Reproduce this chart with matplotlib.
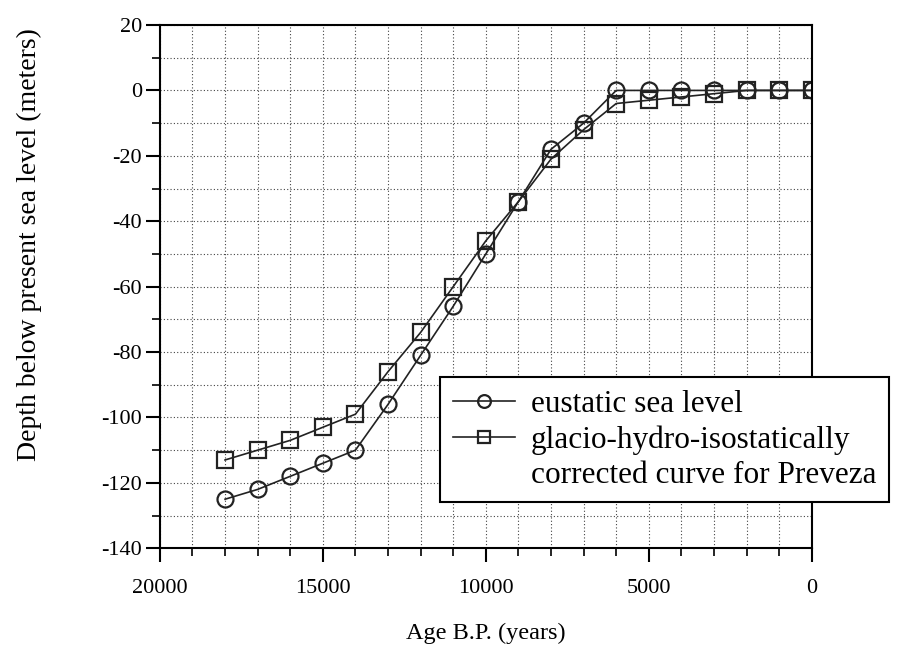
import numpy as np
import matplotlib.pyplot as plt
from matplotlib.lines import Line2D
from matplotlib.ticker import MultipleLocator

plt.rcParams['font.family'] = ['Liberation Serif', 'DejaVu Serif']
plt.rcParams['axes.unicode_minus'] = False

# Data
age = [18000, 17000, 16000, 15000, 14000, 13000, 12000, 11000, 10000, 9000,
       8000, 7000, 6000, 5000, 4000, 3000, 2000, 1000, 0]
eustatic = [-125, -122, -118, -114, -110, -96, -81, -66, -50, -34,
            -18, -10, 0, 0, 0, 0, 0, 0, 0]
preveza = [-113, -110, -107, -103, -99, -86, -74, -60, -46, -34,
           -21, -12, -4, -3, -2, -1, 0, 0, 0]

fig = plt.figure(figsize=(8.98, 6.67), dpi=100)
ax = fig.add_axes([0.178, 0.178, 0.726, 0.7845])

line_kw = dict(color='#222222', lw=1.2, markersize=11.5, markeredgewidth=1.6,
               markerfacecolor='none', markeredgecolor='#222222')
h1, = ax.plot(age, eustatic, marker='o', **line_kw)
h2, = ax.plot(age, preveza, marker='s', **line_kw)

ax.set_xlim(20000, 0)
ax.set_ylim(-140, 20)
ax.xaxis.set_major_locator(MultipleLocator(5000))
ax.xaxis.set_minor_locator(MultipleLocator(1000))
ax.yaxis.set_major_locator(MultipleLocator(20))
ax.yaxis.set_minor_locator(MultipleLocator(10))
ax.grid(which='both', linestyle=(0, (1, 2)), color='#444444', lw=0.8)
ax.tick_params(which='major', direction='out', length=10, width=1.5, labelsize=16)
ax.tick_params(which='minor', direction='out', length=6, width=1.2)
ax.tick_params(axis='x', pad=12)
ax.tick_params(axis='y', pad=3)
for s in ax.spines.values():
    s.set_linewidth(1.5)

ax.set_xlabel('Age B.P. (years)', fontsize=17.5, labelpad=18)
ax.set_ylabel('Depth below present sea level (meters)', fontsize=20)
ax.yaxis.set_label_coords(-0.18, 0.58)

# second label wraps onto a line with no handle, as in the original
blank = Line2D([], [], color='none')
leg = ax.legend([h1, h2, blank],
                ['eustatic sea level', 'glacio-hydro-isostatically',
                 'corrected curve for Preveza'],
                loc='lower left', bbox_to_anchor=(0.49, 0.247),
                bbox_transform=fig.transFigure, fontsize=22.5, frameon=True,
                fancybox=False, edgecolor='black', framealpha=1,
                handlelength=2.0, markerscale=0.8, borderpad=0.4,
                labelspacing=0.2, handletextpad=0.5, borderaxespad=0)
leg.get_frame().set_linewidth(1.5)

fig.savefig('out.png', dpi=100)
